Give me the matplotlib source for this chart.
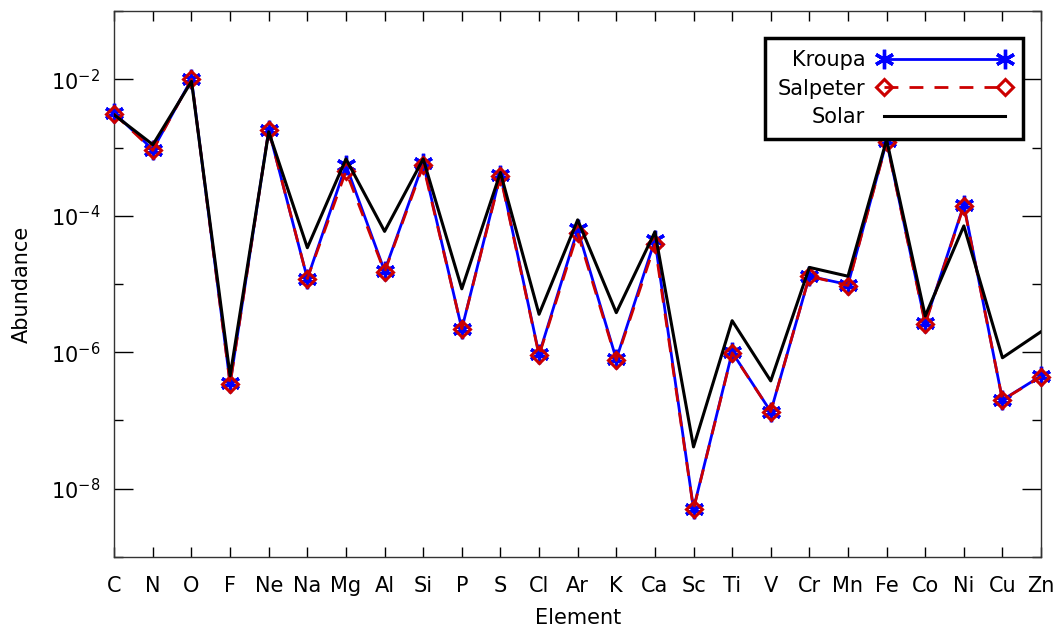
import numpy as np
import matplotlib
matplotlib.use("Agg")
import matplotlib.pyplot as plt
from matplotlib.ticker import FixedLocator, LogFormatterMathtext, NullFormatter

# Element abundances (mass fractions)
elements = ['C', 'N', 'O', 'F', 'Ne', 'Na', 'Mg', 'Al', 'Si', 'P', 'S', 'Cl', 'Ar',
            'K', 'Ca', 'Sc', 'Ti', 'V', 'Cr', 'Mn', 'Fe', 'Co', 'Ni', 'Cu', 'Zn']
kroupa = [3.2e-3, 9.3e-4, 1.0e-2, 3.5e-7, 1.8e-3, 1.2e-5, 5.5e-4, 1.55e-5, 5.9e-4,
          2.2e-6, 4.0e-4, 9.3e-7, 6.3e-5, 7.9e-7, 4.4e-5, 5.1e-9, 1.0e-6, 1.35e-7,
          1.3e-5, 9.8e-6, 1.23e-3, 2.7e-6, 1.45e-4, 2.0e-7, 4.5e-7]
salpeter = [3.1e-3, 9.1e-4, 1.0e-2, 3.4e-7, 1.8e-3, 1.2e-5, 4.5e-4, 1.5e-5, 5.5e-4,
            2.2e-6, 3.8e-4, 9.0e-7, 5.6e-5, 7.6e-7, 3.8e-5, 5.0e-9, 9.8e-7, 1.35e-7,
            1.3e-5, 9.5e-6, 1.2e-3, 2.6e-6, 1.4e-4, 2.0e-7, 4.4e-7]
solar = [3.0e-3, 1.1e-3, 9.3e-3, 4.5e-7, 1.7e-3, 3.4e-5, 6.8e-4, 5.9e-5, 6.8e-4,
         8.5e-6, 4.3e-4, 3.6e-6, 8.7e-5, 3.8e-6, 5.8e-5, 4.1e-8, 2.9e-6, 3.8e-7,
         1.75e-5, 1.3e-5, 1.3e-3, 3.4e-6, 7.1e-5, 8.3e-7, 2.0e-6]

x = np.arange(len(elements))
asterisk = (6, 2, 0)  # six-armed asterisk like the IDL symbol

fig = plt.figure(figsize=(10.58, 6.29), dpi=100)
ax = fig.add_axes([0.108, 0.1145, 0.876, 0.868])

ax.plot(x, kroupa, '-', color='blue', lw=2, marker=asterisk, ms=14, mew=2.4,
        label='Kroupa', clip_on=False, zorder=3)
ax.plot(x, salpeter, '--', color='#cc0000', lw=2, dashes=(5, 4), marker='D', ms=8,
        mfc='none', mew=2.2, label='Salpeter', clip_on=False, zorder=4)
ax.plot(x, solar, '-', color='black', lw=2.2, label='Solar', zorder=5)

ax.set_yscale('log')
ax.set_ylim(1e-9, 1e-1)
ax.set_xlim(0, len(elements) - 1)

# labelled even decades, short unlabelled ticks on odd ones
ax.yaxis.set_major_locator(FixedLocator([1e-8, 1e-6, 1e-4, 1e-2]))
ax.yaxis.set_major_formatter(LogFormatterMathtext())
ax.yaxis.set_minor_locator(FixedLocator([1e-9, 1e-7, 1e-5, 1e-3, 1e-1]))
ax.yaxis.set_minor_formatter(NullFormatter())
ax.set_xticks(x)
ax.set_xticklabels(elements)

ax.tick_params(axis='y', which='major', direction='in', length=13.5, width=1,
               left=True, right=True, labelsize=15, pad=10)
ax.tick_params(axis='y', which='minor', direction='in', length=6.5, width=1,
               left=True, right=True)
ax.tick_params(axis='x', which='major', direction='in', length=7, width=1,
               bottom=True, top=True, labelsize=15, pad=14)
for s in ax.spines.values():
    s.set_linewidth(1)
    s.set_color('#333333')

ax.set_xlabel('Element', fontsize=15, labelpad=8)
ax.set_ylabel('Abundance', fontsize=15, labelpad=14)

leg = ax.legend(loc='upper right', bbox_to_anchor=(0.981, 0.951), borderaxespad=0,
                markerfirst=False, numpoints=2, handlelength=6.4, fontsize=15,
                fancybox=False, framealpha=1, edgecolor='black',
                handletextpad=0.6, labelspacing=0.4, borderpad=0.6)
leg.get_frame().set_linewidth(2.5)

fig.savefig('out.png', dpi=100)
